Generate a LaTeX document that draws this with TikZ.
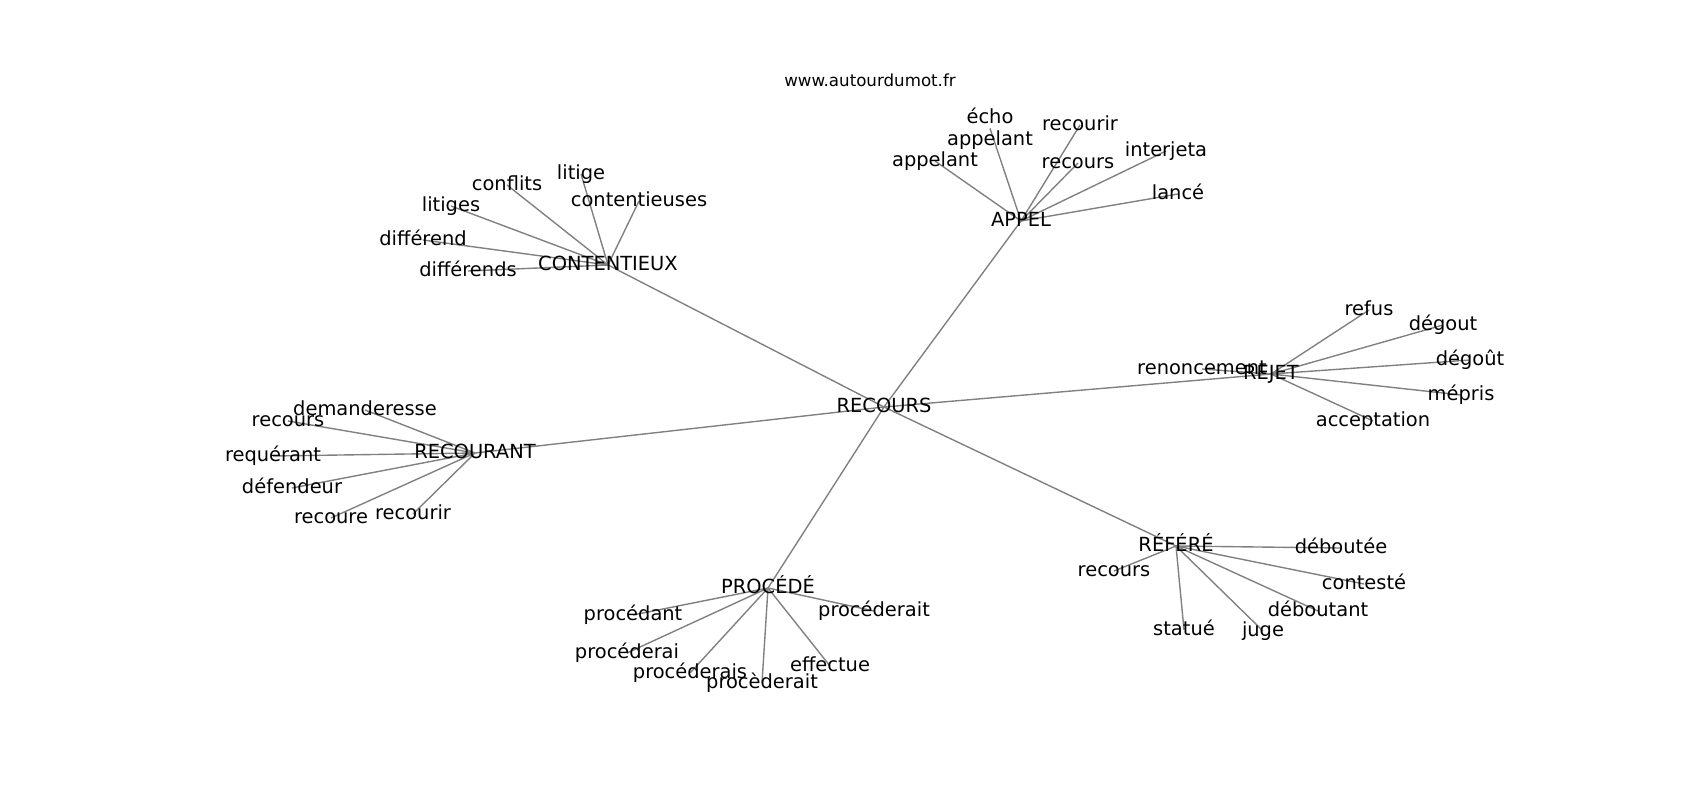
\documentclass[tikz,border=0pt]{standalone}
\usepackage{fontspec}
\setmainfont{DejaVu Sans}
\usetikzlibrary{backgrounds}
\tikzset{
  lbl/.style={font=\fontsize{19.44bp}{23bp}\selectfont, inner sep=0pt, outer sep=0pt,
    text height=14.77bp, text depth=4.04bp, anchor=center},
  lbltwo/.style={font=\fontsize{19.44bp}{21.7bp}\selectfont, inner sep=0pt, outer sep=0pt,
    align=center, anchor=base},
  ttl/.style={font=\fontsize{16.67bp}{20bp}\selectfont, inner sep=0pt, outer sep=0pt,
    text height=12.67bp, text depth=3.47bp, anchor=center},
  linkline/.style={draw=gray, line width=1.39bp}
}
\begin{document}
\begin{tikzpicture}[x=1bp,y=-1bp]
\useasboundingbox (0,0) rectangle (1700,800);
\node[ttl] (title) at (870,82) {www.autourdumot.fr};
% hubs
\node[lbl] (rec) at (884,407) {RECOURS};
\node[lbl] (cont) at (608,265) {CONTENTIEUX};
\node[lbl] (app) at (1021,221) {APPEL};
\node[lbl] (rej) at (1271,374) {REJET};
\node[lbl] (rct) at (475,453) {RECOURANT};
\node[lbl] (pro) at (768,588) {PROCÉDÉ};
\node[lbl] (ref) at (1176,546) {RÉFÉRÉ};
% CONTENTIEUX
\node[lbl] (c1) at (507,185) {conflits};
\node[lbl] (c2) at (581,174) {litige};
\node[lbl] (c3) at (639,201) {contentieuses};
\node[lbl] (c4) at (451,206) {litiges};
\node[lbl] (c5) at (423,240) {différend};
\node[lbl] (c6) at (468,271) {différends};
% APPEL
\node[lbltwo] (a1) at (990,145) {écho\\appelant};
\node[lbl] (a3) at (1080,125) {recourir};
\node[lbl] (a4) at (935,161) {appelant};
\node[lbl] (a5) at (1078,163) {recours};
\node[lbl] (a6) at (1166,151) {interjeta};
\node[lbl] (a7) at (1178,194) {lancé};
% REJET
\node[lbl] (r1) at (1202,369) {renoncement};
\node[lbl] (r2) at (1369,310) {refus};
\node[lbl] (r3) at (1443,325) {dégout};
\node[lbl] (r4) at (1470,360) {dégoût};
\node[lbl] (r5) at (1461,395) {mépris};
\node[lbl] (r6) at (1373,421) {acceptation};
% RECOURANT
\node[lbl] (t1) at (365,410) {demanderesse};
\node[lbl] (t2) at (288,421) {recours};
\node[lbl] (t3) at (273,456) {requérant};
\node[lbl] (t4) at (292,488) {défendeur};
\node[lbl] (t5) at (331,518) {recoure};
\node[lbl] (t6) at (413,514) {recourir};
% PROCEDE
\node[lbl] (p1) at (633,615) {procédant};
\node[lbl] (p2) at (627,653) {procéderai};
\node[lbl] (p3) at (690,673) {procéderais};
\node[lbl] (p4) at (762,683) {procèderait};
\node[lbl] (p5) at (830,666) {effectue};
\node[lbl] (p6) at (874,611) {procéderait};
% REFERE
\node[lbl] (f1) at (1114,571) {recours};
\node[lbl] (f2) at (1341,548) {déboutée};
\node[lbl] (f3) at (1364,584) {contesté};
\node[lbl] (f4) at (1318,611) {déboutant};
\node[lbl] (f5) at (1184,630) {statué};
\node[lbl] (f6) at (1263,631) {juge};
\begin{scope}[on background layer]
\foreach \h in {cont,app,rej,rct,pro,ref}{\draw[linkline] (rec.center) -- (\h.center);}
\foreach \n in {c1,c2,c3,c4,c5,c6}{\draw[linkline] (cont.center) -- (\n.center);}
\foreach \n in {a1,a3,a4,a5,a6,a7}{\draw[linkline] (app.center) -- (\n.center);}
\foreach \n in {r1,r2,r3,r4,r5,r6}{\draw[linkline] (rej.center) -- (\n.center);}
\foreach \n in {t1,t2,t3,t4,t5,t6}{\draw[linkline] (rct.center) -- (\n.center);}
\foreach \n in {p1,p2,p3,p4,p5,p6}{\draw[linkline] (pro.center) -- (\n.center);}
\foreach \n in {f1,f2,f3,f4,f5,f6}{\draw[linkline] (ref.center) -- (\n.center);}
\end{scope}
\end{tikzpicture}
\end{document}
